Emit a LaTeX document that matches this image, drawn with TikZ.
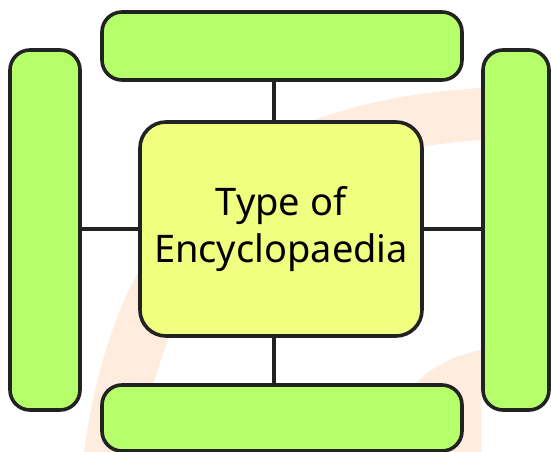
\documentclass[tikz,border=0pt]{standalone}
\usepackage{fontspec}
\setmainfont{Noto Sans}
\usepackage{tikz}
\usetikzlibrary{positioning,calc}
\usepackage{xcolor}
\definecolor{boxgreen}{RGB}{180,255,106}
\definecolor{boxyellow}{RGB}{241,255,128}
\definecolor{boxline}{RGB}{34,34,34}
\definecolor{wmpeach}{RGB}{254,236,222}
\tikzset{
    slot/.style={
        draw=boxline,line width=3.6pt,rounded corners=20pt,fill=#1,
        inner sep=0pt
    },
    slot/.default=boxgreen,
    hub/.style={
        draw=boxline,line width=3.6pt,rounded corners=26pt,fill=boxyellow,
        align=center,font=\fontsize{38}{47}\selectfont,text=black
    },
    link/.style={line width=3.6pt,draw=boxline}
}

\begin{document}
\begin{tikzpicture}[x=1pt,y=1pt]
\useasboundingbox (0,0) rectangle (551,452);

% faint watermark behind the diagram
\fill[wmpeach] (84,0) .. controls (120,260) and (260,350) .. (481,364)
 -- (481,312) .. controls (300,300) and (170,220) .. (140,0) -- cycle;
\fill[wmpeach] (386,0) .. controls (392,50) and (420,90) .. (481,102)
 -- (481,0) -- cycle;

\node[hub,minimum width=282pt,minimum height=214pt]
(type) at (281,223){Type of\\Encyclopaedia};

\node[slot,minimum width=360pt,minimum height=68pt]
(top) at (282,406){};

\node[slot,minimum width=360pt,minimum height=66pt]
(bottom) at (282,34){};

\node[slot,minimum width=70pt,minimum height=360pt]
(left) at (45,222){};

\node[slot,minimum width=66pt,minimum height=360pt]
(right) at (516,222){};

\coordinate (vx) at (274,0);

\draw[link](top.south -| vx)--(type.north -| vx);
\draw[link](type.south -| vx)--(bottom.north -| vx);
\draw[link](type.west)--(left.east |- type.west);
\draw[link](type.east)--(right.west |- type.east);

\end{tikzpicture}
\end{document}
